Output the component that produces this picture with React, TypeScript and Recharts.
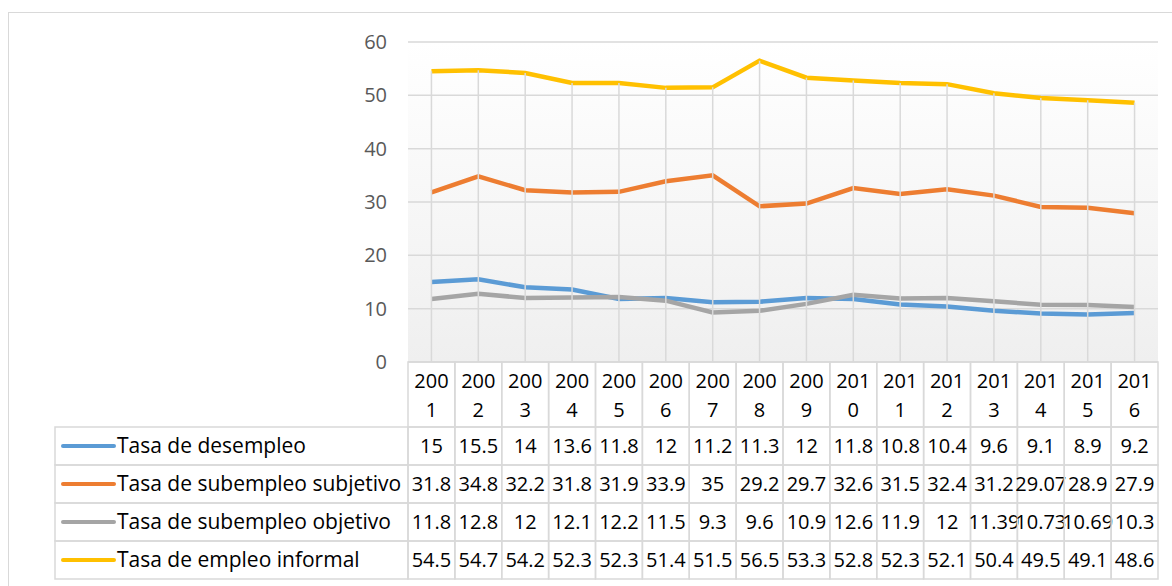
import React from 'react';
import { LineChart, Line, XAxis, YAxis, CartesianGrid } from 'recharts';

const years = ['2001', '2002', '2003', '2004', '2005', '2006', '2007', '2008', '2009', '2010', '2011', '2012', '2013', '2014', '2015', '2016'];
const desempleo = [15, 15.5, 14, 13.6, 11.8, 12, 11.2, 11.3, 12, 11.8, 10.8, 10.4, 9.6, 9.1, 8.9, 9.2];
const subjetivo = [31.8, 34.8, 32.2, 31.8, 31.9, 33.9, 35, 29.2, 29.7, 32.6, 31.5, 32.4, 31.2, 29.07, 28.9, 27.9];
const objetivo = [11.8, 12.8, 12, 12.1, 12.2, 11.5, 9.3, 9.6, 10.9, 12.6, 11.9, 12, 11.39, 10.73, 10.69, 10.3];
const informal = [54.5, 54.7, 54.2, 52.3, 52.3, 51.4, 51.5, 56.5, 53.3, 52.8, 52.3, 52.1, 50.4, 49.5, 49.1, 48.6];
const yTicks = [0, 10, 20, 30, 40, 50, 60];

const series = [
  { key: 'desempleo', name: 'Tasa de desempleo', color: '#5b9bd5', values: desempleo },
  { key: 'subjetivo', name: 'Tasa de subempleo subjetivo', color: '#ed7d31', values: subjetivo },
  { key: 'objetivo', name: 'Tasa de subempleo objetivo', color: '#a5a5a5', values: objetivo },
  { key: 'informal', name: 'Tasa de empleo informal', color: '#ffc000', values: informal },
];

const data = years.map((year, i) => {
  const row: Record<string, any> = { year };
  series.forEach((s) => { row[s.key] = s.values[i]; });
  return row;
});

const W = 1172;
const H = 586;
const PLOT_LEFT = 408;
const PLOT_RIGHT = 1158;
const PLOT_TOP = 42;
const PLOT_BOTTOM = 362;
const COL = (PLOT_RIGHT - PLOT_LEFT) / years.length;
const HEADER_H = 65;
const ROW_H = 38;
const TABLE_LEFT = 55;
const BORDER = '#d9d9d9';
const FONT = '"Open Sans", "Noto Sans", sans-serif';

// Excel-style drop lines from the top series down to the category axis
const DropLine = (props: any) => {
  const { cx, cy, index } = props;
  if (cx == null || cy == null) return <g key={`d${index}`} />;
  return <line key={`d${index}`} x1={cx} x2={cx} y1={cy} y2={PLOT_BOTTOM} stroke={BORDER} strokeWidth={1.5} />;
};

// data table under the axis, one column per category tick
const TableTick = (props: any) => {
  const { x, y, payload } = props;
  const i = payload.index;
  const left = x - COL / 2;
  const year = String(payload.value);
  return (
    <g fontFamily={FONT}>
      {i === 0 && (
        <g>
          {series.map((s, r) => {
            const top = y + HEADER_H + r * ROW_H;
            return (
              <g key={s.key}>
                <rect x={TABLE_LEFT} y={top} width={left - TABLE_LEFT} height={ROW_H} fill="none" stroke={BORDER} strokeWidth={1.5} />
                <line x1={63} x2={114} y1={top + ROW_H / 2} y2={top + ROW_H / 2} stroke={s.color} strokeWidth={4} strokeLinecap="round" />
                <text x={117} y={top + ROW_H / 2 + 7} fontSize={21} fill="#000">{s.name}</text>
              </g>
            );
          })}
        </g>
      )}
      <rect x={left} y={y} width={COL} height={HEADER_H} fill="none" stroke={BORDER} strokeWidth={1.5} />
      <text x={x} y={y + 26} textAnchor="middle" fontSize={20} fill="#000">{year.slice(0, 3)}</text>
      <text x={x} y={y + 55} textAnchor="middle" fontSize={20} fill="#000">{year.slice(3)}</text>
      {series.map((s, r) => {
        const top = y + HEADER_H + r * ROW_H;
        return (
          <g key={s.key}>
            <rect x={left} y={top} width={COL} height={ROW_H} fill="none" stroke={BORDER} strokeWidth={1.5} />
            <text x={x} y={top + ROW_H / 2 + 7} textAnchor="middle" fontSize={20} fill="#000">
              {String(s.values[i])}
            </text>
          </g>
        );
      })}
    </g>
  );
};

export default function App() {
  return (
    <div style={{ position: 'absolute', left: 0, top: 0, width: W, height: H, overflow: 'hidden', background: '#fff' }}>
      <div style={{ position: 'absolute', left: 8, top: 12, width: W + 20, height: H + 20, border: `1.5px solid ${BORDER}` }} />
      <div style={{ position: 'absolute', left: 0, top: 0 }}>
        <LineChart
          width={W}
          height={H}
          data={data}
          margin={{ top: PLOT_TOP, right: W - PLOT_RIGHT, bottom: 0, left: PLOT_LEFT - 60 }}
          style={{ fontFamily: FONT }}
        >
          <defs>
            <linearGradient id="plotBg" x1="0" y1="0" x2="0" y2="1">
              <stop offset="0%" stopColor="#ffffff" />
              <stop offset="100%" stopColor="#efefef" />
            </linearGradient>
          </defs>
          <CartesianGrid vertical={false} stroke={BORDER} strokeWidth={1.5} fill="url(#plotBg)" />
          <XAxis
            dataKey="year"
            height={H - PLOT_BOTTOM}
            axisLine={false}
            tickLine={false}
            tickSize={0}
            tickMargin={0}
            interval={0}
            padding={{ left: COL / 2, right: COL / 2 }}
            tick={<TableTick />}
          />
          <YAxis
            domain={[0, 60]}
            ticks={yTicks}
            width={60}
            axisLine={false}
            tickLine={false}
            tickSize={0}
            tickMargin={21}
            tick={{ fill: '#595959', fontSize: 20, fontFamily: FONT }}
          />
          <Line dataKey="informal" stroke="none" dot={DropLine} activeDot={false} isAnimationActive={false} legendType="none" />
          {series.map((s) => (
            <Line
              key={s.key}
              dataKey={s.key}
              name={s.name}
              stroke={s.color}
              strokeWidth={4.5}
              dot={false}
              activeDot={false}
              type="linear"
              isAnimationActive={false}
            />
          ))}
        </LineChart>
      </div>
    </div>
  );
}
